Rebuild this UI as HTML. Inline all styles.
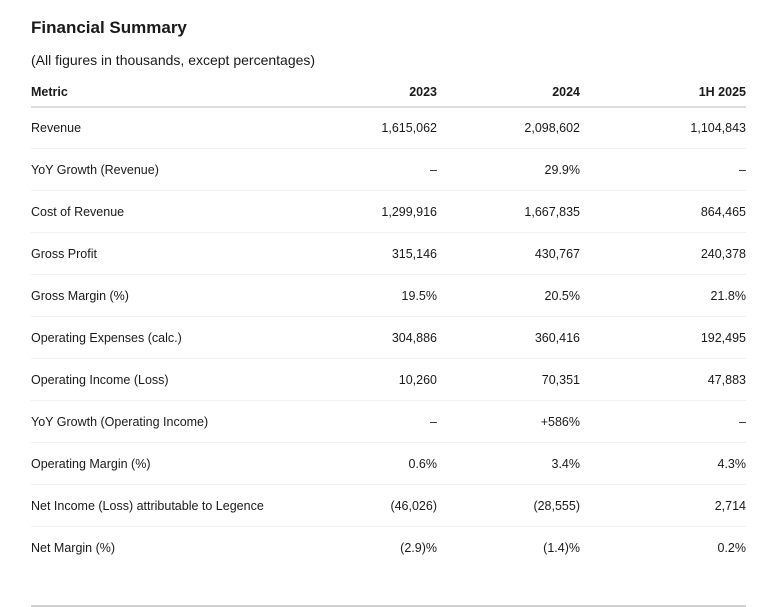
<!DOCTYPE html>
<html><head><meta charset="utf-8"><style>
body{margin:0;width:784px;height:607px;background:#fff;font-family:"Liberation Sans",sans-serif;color:#1a1a1a;position:relative;overflow:hidden}
.t{position:absolute;white-space:nowrap}
.title{left:31px;top:18px;font-size:17px;font-weight:bold}
.sub{left:31px;top:52px;font-size:14px}
.h{font-weight:bold;font-size:12.5px;top:85px}
.c{font-size:12.5px}
.r{text-align:right}
.line{position:absolute;left:31px;width:715px;height:1px;background:#f0f0f0}
</style></head><body>
<div class="t title">Financial Summary</div>
<div class="t sub">(All figures in thousands, except percentages)</div>
<div class="t h" style="left:31px">Metric</div>
<div class="t h r" style="right:347px">2023</div>
<div class="t h r" style="right:204px">2024</div>
<div class="t h r" style="right:38px">1H 2025</div>
<div class="line" style="top:106px;background:#dcdcdc;height:1.5px"></div>
<div id="rows"></div>
<div class="line" style="top:605px;background:#d0d0d0;height:1.5px"></div>
<script>
const metrics=["Revenue","YoY Growth (Revenue)","Cost of Revenue","Gross Profit","Gross Margin (%)","Operating Expenses (calc.)","Operating Income (Loss)","YoY Growth (Operating Income)","Operating Margin (%)","Net Income (Loss) attributable to Legence","Net Margin (%)"];
const v2023=["1,615,062","–","1,299,916","315,146","19.5%","304,886","10,260","–","0.6%","(46,026)","(2.9)%"];
const v2024=["2,098,602","29.9%","1,667,835","430,767","20.5%","360,416","70,351","+586%","3.4%","(28,555)","(1.4)%"];
const v1h2025=["1,104,843","–","864,465","240,378","21.8%","192,495","47,883","–","4.3%","2,714","0.2%"];
const root=document.getElementById('rows');
metrics.forEach((m,i)=>{
  const y=121+i*42;
  const mk=(txt,style,name)=>{const d=document.createElement('div');d.className='t c'+(style.right?' r':'');Object.assign(d.style,style);d.style.top=y+'px';d.textContent=txt;
  
  
  root.appendChild(d);};
  mk(m,{left:'31px'},'metric-label');
  mk(v2023[i],{right:'347px'},'value-2023');
  mk(v2024[i],{right:'204px'},'value-2024');
  mk(v1h2025[i],{right:'38px'},'value-1h2025');
  if(i<metrics.length-1){const l=document.createElement('div');l.className='line';l.style.top=(y+27)+'px';
  
  
  root.appendChild(l);}
});
</script>
</body></html>
